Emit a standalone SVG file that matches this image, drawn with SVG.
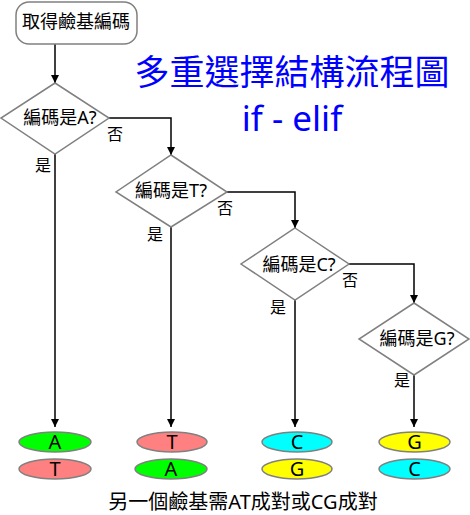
<svg xmlns="http://www.w3.org/2000/svg" width="470" height="515" viewBox="0 0 470 515">
<style>
text{font-family:"Noto Sans","Noto Sans CJK TC",sans-serif;fill:#000}
.n{font-size:18px;text-anchor:middle}
.l{font-size:16px;text-anchor:middle}
.b{font-size:20px;text-anchor:middle}
.t{font-size:35px;fill:#0000FF;text-anchor:middle}
.shape{fill:#fff;stroke:#808080;stroke-width:1.5}
.e{stroke:#808080;stroke-width:1.5}
.c{fill:none;stroke:#000;stroke-width:1.5;marker-end:url(#ah)}
</style>
<defs>
<marker id="ah" viewBox="0 0 10 10" refX="10" refY="5" markerWidth="8" markerHeight="8" markerUnits="userSpaceOnUse" orient="auto">
<path d="M0,0 L10,5 L0,10 z" fill="#000"/>
</marker>
</defs>
<rect width="470" height="515" fill="#fff"/>
<g id="title">
<text class="t" x="292" y="85">多重選擇結構流程圖</text>
<text class="t" x="292" y="131">if - elif</text>
</g>
<g id="connectors">
<path class="c" d="M55,44 V83"/>
<path class="c" d="M109,118 H171 V155"/>
<path class="c" d="M227,192 H295 V228"/>
<path class="c" d="M349,264 H414 V303"/>
<path class="c" d="M55,154 V427"/>
<path class="c" d="M171,227 V427"/>
<path class="c" d="M295,300 V427"/>
<path class="c" d="M414,375 V427"/>
<text class="l" x="115" y="140">否</text>
<text class="l" x="43" y="171">是</text>
<text class="l" x="225" y="214">否</text>
<text class="l" x="155" y="240">是</text>
<text class="l" x="350" y="286">否</text>
<text class="l" x="278" y="313">是</text>
<text class="l" x="402" y="386">是</text>
</g>
<g id="start">
<rect class="shape" x="16" y="2" width="121" height="42" rx="13"/>
<text class="n" x="76" y="28">取得鹼基編碼</text>
</g>
<g id="isA">
<path class="shape" d="M55,83 L109,118 L55,154 L1,118 z"/>
<text class="n" x="60" y="124">編碼是A?</text>
</g>
<g id="isT">
<path class="shape" d="M171,155 L227,192 L171,227 L116,192 z"/>
<text class="n" x="171" y="197">編碼是T?</text>
</g>
<g id="isC">
<path class="shape" d="M295,228 L349,264 L295,300 L241,264 z"/>
<text class="n" x="299" y="271">編碼是C?</text>
</g>
<g id="isG">
<path class="shape" d="M414,303 L469,339 L414,375 L359,339 z"/>
<text class="n" x="417" y="345">編碼是G?</text>
</g>
<g id="A1"><ellipse class="e" cx="55" cy="442" rx="36" ry="10" fill="#00FF00"/><text class="b" x="55" y="449">A</text></g>
<g id="T1"><ellipse class="e" cx="55" cy="469" rx="36" ry="10" fill="#FF8080"/><text class="b" x="55" y="476">T</text></g>
<g id="T2"><ellipse class="e" cx="172" cy="442" rx="35" ry="10" fill="#FF8080"/><text class="b" x="172" y="449">T</text></g>
<g id="A2"><ellipse class="e" cx="171" cy="469" rx="36" ry="10" fill="#00FF00"/><text class="b" x="171" y="476">A</text></g>
<g id="C3"><ellipse class="e" cx="297" cy="442" rx="35" ry="10" fill="#00FFFF"/><text class="b" x="297" y="449">C</text></g>
<g id="G3"><ellipse class="e" cx="297" cy="469" rx="35" ry="10" fill="#FFFF00"/><text class="b" x="297" y="476">G</text></g>
<g id="G4"><ellipse class="e" cx="414.5" cy="442" rx="35.5" ry="10" fill="#FFFF00"/><text class="b" x="414.5" y="449">G</text></g>
<g id="C4"><ellipse class="e" cx="414.5" cy="469" rx="35.5" ry="10" fill="#00FFFF"/><text class="b" x="414.5" y="476">C</text></g>
<g id="note">
<text class="b" x="243" y="509">另一個鹼基需AT成對或CG成對</text>
</g>
</svg>
